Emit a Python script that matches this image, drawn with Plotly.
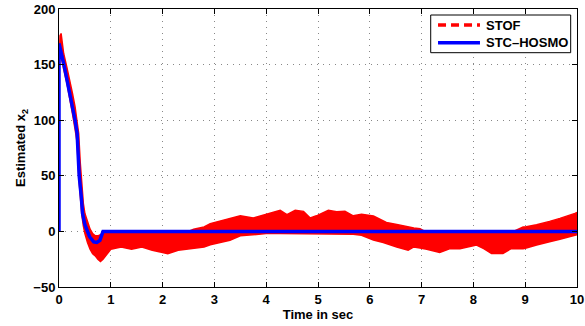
import plotly.graph_objects as go

# STC-HOSMO estimate (blue)
blue_t = [0, 0, 0.09, 0.185, 0.31, 0.35, 0.39, 0.43, 0.455, 0.5, 0.54, 0.59, 0.67, 0.73, 0.79, 0.83, 0.85, 10]
blue_v = [0, 169, 151, 130, 100, 88, 50, 31, 16, 6, 1, -4.8, -9.5, -10, -8, -3, 0, 0]

# STOF estimate (red) - chattering band, upper / lower envelope
red_t = [0.01, 0.02, 0.04, 0.06, 0.09, 0.15, 0.2, 0.26, 0.31, 0.35, 0.38, 0.41, 0.44, 0.47, 0.5,
         0.55, 0.6, 0.65, 0.7, 0.75, 0.8, 0.85, 0.9, 0.95, 1.0, 1.2, 1.4, 1.6, 1.8, 2.0, 2.1, 2.3,
         2.45, 2.6, 2.8, 2.92, 3.17, 3.3, 3.5, 3.75, 4.0, 4.27, 4.4, 4.56, 4.72, 4.85, 4.97, 5.2,
         5.36, 5.52, 5.68, 5.84, 6.07, 6.26, 6.32, 6.52, 6.74, 6.85, 6.97, 7.1, 7.35, 7.55, 7.74,
         8.06, 8.2, 8.35, 8.57, 8.73, 8.96, 9.02, 9.22, 9.35, 9.47, 9.67, 9.73, 9.96, 10]
red_hi = [160, 176, 178, 168, 160, 148, 138, 124, 112, 100, 88, 62, 40, 25, 16,
          8, 2, -2, -4, -4, -3, -1, -1, -1, -1, -1, -1, -1, -1, -1, -1, -1,
          -1, 2, 4, 7, 10, 12, 14, 12, 15.6, 19, 15, 19, 18, 12, 14, 19,
          17.7, 18, 14, 15.4, 13.8, 9.3, 8, 6.3, 4, 3, 2.4, -1, -1, -1, -1,
          -1, -1, -1, -1, -1, 4, 4.2, 6, 7.2, 9, 11.7, 12.5, 16.2, 17]
red_lo = [150, 160, 158, 152, 146, 134, 122, 106, 92, 80, 50, 30, 15, 5, -2,
          -10, -16, -20, -22, -25, -27, -25, -22, -18, -16, -14, -16, -14, -17, -19, -20, -17,
          -16, -15, -14, -12, -9, -8, -4, -3, -2, -2, -2, -2, -2, -2, -2, -2,
          -2, -2, -2.5, -3.5, -7.8, -10, -11, -14, -17, -14, -15, -16, -19, -15.5, -15.5,
          -12.3, -15.5, -19.8, -19.8, -15.5, -15.5, -15, -12.3, -11, -9.3, -7, -6.3, -3.3, -3]

x_ticks = [0, 1, 2, 3, 4, 5, 6, 7, 8, 9, 10]
y_ticks = [-50, 0, 50, 100, 150, 200]
series_names = ["STOF", "STC–HOSMO"]

RED = "#ff0000"
BLUE = "#0000ff"
FONT = "Liberation Sans, Arial, sans-serif"

fig = go.Figure()
fig.add_trace(go.Scatter(x=red_t, y=red_hi, mode="lines", line=dict(color=RED, width=1.5),
                         name=series_names[0], showlegend=False, hoverinfo="skip"))
fig.add_trace(go.Scatter(x=red_t, y=red_lo, mode="lines", line=dict(color=RED, width=1.5),
                         fill="tonexty", fillcolor=RED, name=series_names[0],
                         showlegend=False, hoverinfo="skip"))
fig.add_trace(go.Scatter(x=blue_t, y=blue_v, mode="lines", name=series_names[1],
                         line=dict(color=BLUE, width=3.5), showlegend=False))

axis_common = dict(
    showline=True, linecolor="black", linewidth=1, mirror="ticks",
    ticks="inside", ticklen=5, tickcolor="black",
    showgrid=True, gridcolor="#888888", griddash="1px,5px", gridwidth=1,
    zeroline=False,
    tickfont=dict(family=FONT, size=13, color="black", weight="bold"),
)

fig.update_xaxes(range=[0, 10], tickvals=x_ticks, **axis_common,
                 title=dict(text="Time in sec", standoff=2,
                            font=dict(family=FONT, size=13, color="black", weight="bold")))
fig.update_yaxes(range=[-50, 200], tickvals=y_ticks, **axis_common,
                 title=dict(text="Estimated x<sub>2</sub>", standoff=4,
                            font=dict(family=FONT, size=13, color="black", weight="bold")))

# legend box (layout decoration, paper coordinates)
lg_x0, lg_x1, lg_y0, lg_y1 = 0.7176, 0.9878, 0.8428, 0.9784
smp_x0, smp_x1, txt_x = 0.7317, 0.8127, 0.821
row_y = [0.9424, 0.8788]
shapes = [dict(type="rect", xref="paper", yref="paper", x0=lg_x0, x1=lg_x1, y0=lg_y0, y1=lg_y1,
               line=dict(color="black", width=1), fillcolor="white", layer="above")]
shapes.append(dict(type="line", xref="paper", yref="paper", x0=smp_x0, x1=smp_x1,
                   y0=row_y[0], y1=row_y[0], line=dict(color=RED, width=3.5, dash="8px,5px"),
                   layer="above"))
shapes.append(dict(type="line", xref="paper", yref="paper", x0=smp_x0, x1=smp_x1,
                   y0=row_y[1], y1=row_y[1], line=dict(color=BLUE, width=3.5), layer="above"))
annotations = [dict(xref="paper", yref="paper", x=txt_x, y=row_y[i], text=series_names[i],
                    showarrow=False, xanchor="left", yanchor="middle",
                    font=dict(family=FONT, size=13, color="black", weight="bold"))
               for i in range(2)]

fig.update_layout(
    width=585, height=326,
    margin=dict(l=59, r=8, t=9, b=39, autoexpand=False),
    plot_bgcolor="white", paper_bgcolor="white",
    font=dict(family=FONT, size=13, color="black"),
    shapes=shapes, annotations=annotations,
    showlegend=False,
)

fig.write_html("out.html", config={"displayModeBar": False},
               post_script="document.body.style.margin='0';document.body.style.padding='0';")
